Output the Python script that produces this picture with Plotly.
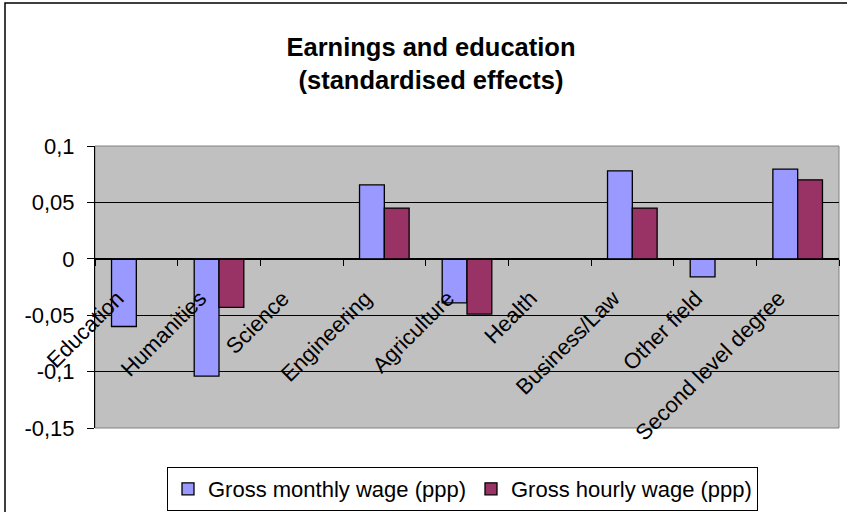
import plotly.graph_objects as go

categories = ["Education", "Humanities", "Science", "Engineering", "Agriculture",
              "Health", "Business/Law", "Other field", "Second level degree"]
monthly = [-0.060, -0.104, None, 0.0655, -0.039, None, 0.078, -0.016, 0.0795]
hourly = [None, -0.043, None, 0.045, -0.049, None, 0.045, None, 0.070]
series_names = ["Gross monthly wage (ppp)", "Gross hourly wage (ppp)"]
y_tickvals = [0.1, 0.05, 0, -0.05, -0.1, -0.15]
y_ticktext = ["0,1", "0,05", "0", "-0,05", "-0,1", "-0,15"]

font_family = "Liberation Sans, Arial, sans-serif"

W, H = 847, 512
ml, mt = 95, 146
mr = W - 839
mb = H - 428
pw = W - ml - mr
ph = H - mt - mb

fig = go.Figure()
fig.add_trace(go.Bar(x=categories, y=monthly, name=series_names[0],
                     marker=dict(color="#9999FF", line=dict(color="black", width=1.3))))
fig.add_trace(go.Bar(x=categories, y=hourly, name=series_names[1],
                     marker=dict(color="#993366", line=dict(color="black", width=1.3))))

fig.update_layout(
    width=W, height=H,
    margin=dict(l=ml, r=mr, t=mt, b=mb, autoexpand=False),
    paper_bgcolor="white",
    plot_bgcolor="#C0C0C0",
    barmode="group",
    bargap=0.4,
    bargroupgap=0,
    font=dict(family=font_family, size=22, color="black"),
    title=dict(text="<b>Earnings and education<br>(standardised effects)</b>",
               x=431 / W, xanchor="center", y=1 - 56 / H, yanchor="middle",
               font=dict(size=25.5, family=font_family), automargin=False),
    showlegend=True,
    legend=dict(orientation="h", x=462.5 / W, xref="container", xanchor="center",
                y=1 - 489 / H, yref="container", yanchor="middle",
                bordercolor="black", borderwidth=1, bgcolor="white",
                font=dict(size=22), itemwidth=30, tracegroupgap=0),
    xaxis=dict(range=[-0.5, len(categories) - 0.5], autorange=False,
               anchor="free", position=0.6, showline=True, linecolor="black", linewidth=1,
               ticks="outside", tickson="boundaries", ticklen=6, tickcolor="black",
               tickangle=-45, ticklabelshift=-19, ticklabelstandoff=17,
               tickfont=dict(size=22), showgrid=False, automargin=False),
    yaxis=dict(range=[-0.15, 0.1], autorange=False, tickvals=y_tickvals, ticktext=y_ticktext,
               showgrid=True, gridcolor="black", gridwidth=1,
               zeroline=True, zerolinecolor="black", zerolinewidth=1,
               showline=True, linecolor="black", linewidth=1,
               ticks="outside", ticklen=7, tickcolor="black", ticklabelstandoff=8,
               tickfont=dict(size=22), automargin=False),
    shapes=[
        dict(type="rect", xref="paper", yref="paper", x0=0, x1=1, y0=0, y1=1,
             line=dict(color="#808080", width=1), layer="below"),
        dict(type="rect", xref="paper", yref="paper",
             x0=(5 - ml) / pw, x1=1.2, y0=-0.5, y1=(H - mb - 3) / ph,
             line=dict(color="black", width=1.5)),
    ],
)

fig.write_html("out.html", config={"displayModeBar": False},
               post_script="document.body.style.margin='0px';")
